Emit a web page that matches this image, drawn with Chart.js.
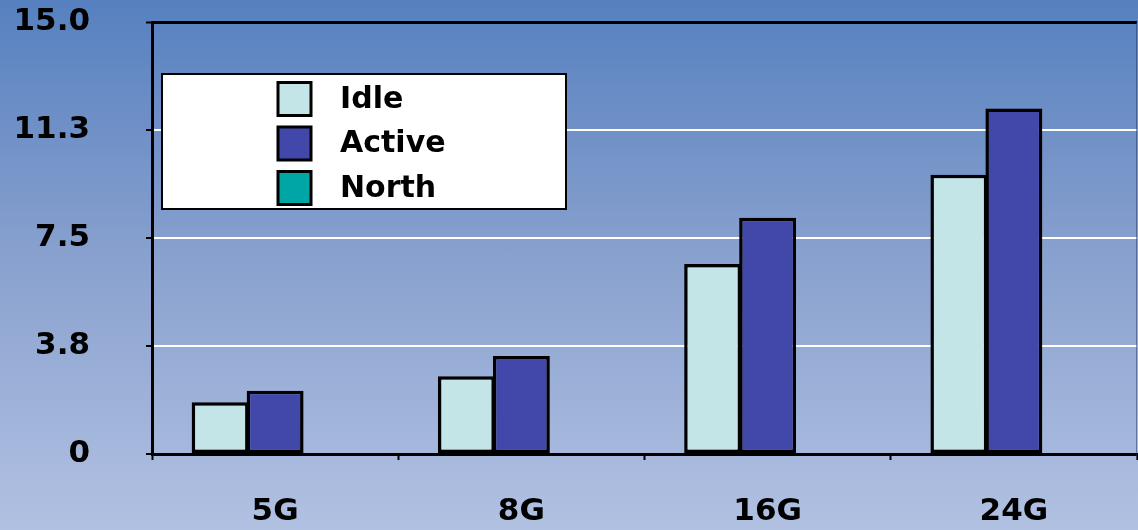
<!DOCTYPE html>
<html>
<head>
<meta charset="utf-8">
<script src="https://cdn.jsdelivr.net/npm/chart.js@4/dist/chart.umd.min.js"></script>
<style>
  html, body { margin: 0; padding: 0; }
  body {
    width: 1138px; height: 530px; overflow: hidden;
    background: linear-gradient(to bottom, #5680bf 0%, #8aa2cf 50%, #b1c1e2 100%);
  }
  #wrap { position: relative; width: 1138px; height: 530px; }
</style>
</head>
<body>
<div id="wrap"><canvas id="chart" width="1138" height="530"></canvas></div>
<script>
// Memory configurations and measured values
const categories = ['5G', '8G', '16G', '24G'];
const idleValues = [1.8, 2.7, 6.6, 9.7];
const activeValues = [2.2, 3.4, 8.2, 12.0];
const northValues = [null, null, null, null];
const seriesNames = ['Idle', 'Active', 'North'];
const yTickLabels = ['0', '3.8', '7.5', '11.3', '15.0'];

const FONT = '"DejaVu Sans", sans-serif';

// Boxed legend drawn inside the plot area
const boxLegend = {
  id: 'boxLegend',
  afterDatasetsDraw(chart) {
    const ctx = chart.ctx;
    const x0 = 162, y0 = 74, w = 404, h = 135;
    ctx.save();
    ctx.fillStyle = '#ffffff';
    ctx.fillRect(x0, y0, w, h);
    ctx.lineWidth = 2;
    ctx.strokeStyle = '#000000';
    ctx.strokeRect(x0, y0, w, h);
    ctx.font = 'bold 30px ' + FONT;
    ctx.textBaseline = 'middle';
    ctx.textAlign = 'left';
    chart.data.datasets.forEach((ds, i) => {
      const cy = 99 + i * 44.5;
      const sx = 278, size = 33;
      ctx.fillStyle = ds.backgroundColor;
      ctx.fillRect(sx, cy - size / 2, size, size);
      ctx.lineWidth = 3;
      ctx.strokeStyle = '#000000';
      ctx.strokeRect(sx, cy - size / 2, size, size);
      ctx.fillStyle = '#000000';
      ctx.fillText(ds.label, 340, cy + 1);
    });
    ctx.restore();
  }
};

// Thin frame on the right edge of the plot
const rightEdge = {
  id: 'rightEdge',
  beforeDatasetsDraw(chart) {
    const a = chart.chartArea, ctx = chart.ctx;
    ctx.save();
    ctx.strokeStyle = 'rgba(40,50,90,0.5)';
    ctx.lineWidth = 1;
    ctx.beginPath();
    ctx.moveTo(a.right - 0.5, a.top);
    ctx.lineTo(a.right - 0.5, a.bottom + 6);
    ctx.stroke();
    ctx.restore();
  }
};

const barCommon = {
  borderColor: '#000000',
  borderWidth: 3.5,
  borderSkipped: false,
  categoryPercentage: 0.67,
  barPercentage: 1.035
};

new Chart(document.getElementById('chart'), {
  type: 'bar',
  data: {
    labels: categories,
    datasets: [
      Object.assign({ label: seriesNames[0], data: idleValues, backgroundColor: '#c4e5e7' }, barCommon),
      Object.assign({ label: seriesNames[1], data: activeValues, backgroundColor: '#4248aa' }, barCommon),
      Object.assign({ label: seriesNames[2], data: northValues, backgroundColor: '#00a6a6' }, barCommon)
    ]
  },
  options: {
    responsive: false,
    animation: false,
    devicePixelRatio: 1,
    layout: { padding: { top: 22, right: 1, left: 0, bottom: 0 } },
    plugins: {
      legend: { display: false },
      tooltip: { enabled: false }
    },
    scales: {
      x: {
        offset: true,
        afterFit(scale) {
          scale.height = 76;
          scale.paddingLeft = 0; scale.paddingRight = 0;
        },
        grid: {
          offset: true,
          drawOnChartArea: false,
          drawTicks: true,
          tickLength: 6,
          tickColor: '#000000',
          tickWidth: 2
        },
        border: { display: true, color: '#000000', width: 3 },
        ticks: {
          color: '#000000',
          font: { family: FONT, size: 31, weight: 'bold' },
          padding: 33,
          maxRotation: 0
        }
      },
      y: {
        min: 0,
        max: 15,
        afterFit(scale) {
          scale.width = 152;
          scale.paddingTop = 0; scale.paddingBottom = 0;
        },
        grid: {
          color(ctx) {
            const v = ctx.tick ? ctx.tick.value : 0;
            return v >= 15 ? '#000000' : '#ffffff';
          },
          lineWidth(ctx) {
            const v = ctx.tick ? ctx.tick.value : 0;
            return v >= 15 ? 3 : 2;
          },
          drawTicks: true,
          tickLength: 6,
          tickColor: '#000000',
          tickWidth: 2
        },
        border: { display: true, color: '#000000', width: 3 },
        ticks: {
          stepSize: 3.75,
          color: '#000000',
          font: { family: FONT, size: 31, weight: 'bold' },
          padding: 56,
          callback(value, index) { return yTickLabels[index]; }
        }
      }
    }
  },
  plugins: [rightEdge, boxLegend]
});
</script>
</body>
</html>
